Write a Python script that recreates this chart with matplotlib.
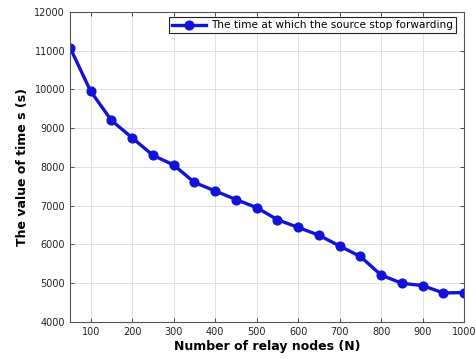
import matplotlib.pyplot as plt
import numpy as np

# relay node counts and the stop-forwarding time
nodes = [50, 100, 150, 200, 250, 300, 350, 400, 450, 500,
         550, 600, 650, 700, 750, 800, 850, 900, 950, 1000]
stop_time = [11080, 9950, 9200, 8750, 8300, 8050, 7600, 7380, 7160, 6950,
             6640, 6440, 6240, 5960, 5690, 5210, 5000, 4940, 4750, 4760]

x_ticks = [100, 200, 300, 400, 500, 600, 700, 800, 900, 1000]
y_ticks = [4000, 5000, 6000, 7000, 8000, 9000, 10000, 11000, 12000]

fig = plt.figure(figsize=(4.76, 3.59), dpi=100)
ax = fig.add_axes([0.147, 0.103, 0.828, 0.864])

blue = '#1212d8'
ax.plot(nodes, stop_time, color=blue, linewidth=2.4, marker='o',
        markersize=6.3, markerfacecolor=blue, markeredgecolor=blue,
        label='The time at which the source stop forwarding')

ax.set_xlim(50, 1000)
ax.set_ylim(4000, 12000)
ax.set_xticks(x_ticks)
ax.set_yticks(y_ticks)
ax.tick_params(direction='in', top=True, right=True, labelsize=7,
               length=3, width=0.6, colors='#333333', labelcolor='#222222')
ax.grid(True, color='#e0e0e0', linestyle='-', linewidth=0.7)
for s in ax.spines.values():
    s.set_linewidth(0.8)
    s.set_color('#555555')

ax.set_xlabel('Number of relay nodes (N)', fontsize=9, fontweight='bold', labelpad=2)
ax.set_ylabel('The value of time s (s)', fontsize=9, fontweight='bold', labelpad=4)

leg = ax.legend(loc='upper right', fontsize=7.6, fancybox=False, framealpha=1,
                edgecolor='#222222', handlelength=3.2, handletextpad=0.5,
                borderpad=0.3, borderaxespad=0.2,
                bbox_to_anchor=(0.985, 0.99))
leg.get_frame().set_linewidth(0.8)

fig.savefig('out.png', dpi=100)
